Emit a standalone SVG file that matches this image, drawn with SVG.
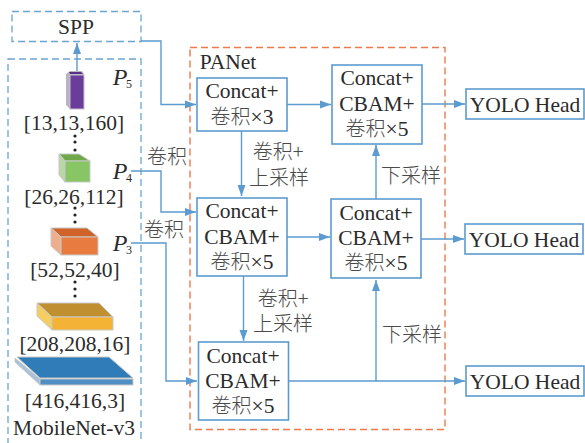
<svg xmlns="http://www.w3.org/2000/svg" width="585" height="443" viewBox="0 0 585 443">
  <style>
    text { font-family: "Liberation Serif", "Noto Sans CJK SC", serif; font-size: 21.500px; fill: #2b2b2b; text-anchor: middle; }
    .cjk { font-family: "Noto Sans CJK SC", "Liberation Serif", serif; font-size: 20px; font-weight: 300; fill: #4a4a4a; }
    .it { font-style: italic; font-size: 24px; }
    .sub { font-size: 12px; }
    .box { fill: #fff; stroke: #5b9bd0; stroke-width: 1.6; }
    .dash { fill: none; stroke: #6aa5d2; stroke-width: 1.3; stroke-dasharray: 7 4; }
    .panet { fill: none; stroke: #ee7a4c; stroke-width: 1.4; stroke-dasharray: 7 4; }
    .wire { fill: none; stroke: #5b9bd0; stroke-width: 1.4; marker-end: url(#arrow); }
    .plain { fill: none; stroke: #5b9bd0; stroke-width: 1.4; }
    .edge { stroke: #c8c8c8; stroke-width: 1; }
    .dot { fill: #222; }
  </style>
  <defs>
    <marker id="arrow" markerUnits="userSpaceOnUse" markerWidth="12" markerHeight="10" refX="11" refY="5" orient="auto">
      <path d="M0 1 L11 5 L0 9 Z" fill="#5b9bd0"/>
    </marker>
  </defs>

  <rect class="panet" x="190" y="47.500" width="255" height="382"/>
  <rect class="dash" x="12" y="11.500" width="129" height="30"/>
  <rect class="dash" x="8" y="59" width="133" height="390"/>

  <g id="connectors">
    <path class="wire" d="M77 71 V43"/>
    <path class="wire" d="M141 41 H161 V104.500 H196"/>
    <path class="wire" d="M131 171 H161 V212 H196"/>
    <path class="wire" d="M131 243 H166 V381 H197"/>
    <path class="wire" d="M287 104.500 H331"/>
    <path class="wire" d="M241.500 131 V196"/>
    <path class="wire" d="M287 237 H330"/>
    <path class="wire" d="M243.500 276 V341"/>
    <path class="wire" d="M376 199 V145"/>
    <path class="plain" d="M289 381 H376"/>
    <path class="wire" d="M376 381 V280"/>
    <path class="wire" d="M376 381 H465"/>
    <path class="wire" d="M422 104 H465"/>
    <path class="wire" d="M421 239 H464"/>
  </g>

  <g id="spp"><text x="76" y="34">SPP</text></g>

  <g id="backbone">
    <g id="p5-block">
      <path d="M66 74 L70 71 H82 L84 74 V109 H70 L66 105 Z" fill="#b9b4c4"/>
      <path d="M69 72 H81 L83 74 H70 Z" fill="#5a2f87"/>
      <rect x="70" y="75" width="14" height="34" fill="#6a3d9a" stroke="#c4c0cc" stroke-width="1"/>
    </g>
    <text x="74" y="130">[13,13,160]</text>
    <g id="p4-block">
      <path d="M59 154 H79 L90 161 H65 Z" fill="#6fa84a" class="edge"/>
      <path d="M59 154 L65 161 V182 L59 175 Z" fill="#b9d6a4" class="edge"/>
      <rect x="65" y="161" width="25" height="21" fill="#88c665" class="edge"/>
    </g>
    <text x="74" y="204">[26,26,112]</text>
    <g id="p3-block">
      <path d="M51 228 H87 L98 237 H61 Z" fill="#cf6329" class="edge"/>
      <path d="M51 228 L61 237 V255 L51 246 Z" fill="#eeae8b" class="edge"/>
      <rect x="61" y="237" width="37" height="18" fill="#e87c40" class="edge"/>
    </g>
    <text x="75" y="277">[52,52,40]</text>
    <g id="c2-block">
      <path d="M37 303 H99 L113 317 H52 Z" fill="#bf8f30" class="edge"/>
      <path d="M37 303 L52 317 V330 L37 316 Z" fill="#f6cd62" class="edge"/>
      <rect x="52" y="317" width="61" height="13" fill="#f5b335" class="edge"/>
    </g>
    <text x="75" y="351">[208,208,16]</text>
    <g id="input-block">
      <path d="M17 357 H109 L133 378 H40 Z" fill="#2f7cb8" class="edge"/>
      <path d="M15 358 L40 379 V385 L15 362 Z" fill="#a9c2da" class="edge"/>
      <rect x="40" y="379" width="93" height="6" fill="#4f8fc4" class="edge"/>
    </g>
    <text x="75" y="408">[416,416,3]</text>
    <text x="74" y="435">MobileNet-v3</text>

    <g id="ellipsis-upper">
      <circle class="dot" cx="75" cy="136" r="1.600"/><circle class="dot" cx="75" cy="142" r="1.600"/><circle class="dot" cx="75" cy="150" r="1.600"/>
    </g>
    <g id="ellipsis-mid">
      <circle class="dot" cx="75" cy="208" r="1.600"/><circle class="dot" cx="75" cy="215" r="1.600"/><circle class="dot" cx="75" cy="222" r="1.600"/>
    </g>
    <g id="ellipsis-lower">
      <circle class="dot" cx="75" cy="282" r="1.600"/><circle class="dot" cx="75" cy="289" r="1.600"/><circle class="dot" cx="75" cy="296" r="1.600"/>
    </g>

    <text class="it" x="120" y="85">P</text><text class="sub" x="129" y="88">5</text>
    <text class="it" x="120" y="179">P</text><text class="sub" x="129" y="182">4</text>
    <text class="it" x="120" y="251">P</text><text class="sub" x="129" y="254">3</text>
  </g>

  <text class="cjk" x="167" y="164">卷积</text>
  <text class="cjk" x="164" y="237">卷积</text>

  <text x="228" y="69">PANet</text>

  <g id="n1">
    <rect class="box" x="197" y="78" width="90" height="53"/>
    <text x="242" y="98">Concat+</text>
    <text x="242" y="124"><tspan class="cjk">卷积</tspan>×3</text>
  </g>
  <g id="n2">
    <rect class="box" x="332" y="65" width="90" height="79"/>
    <text x="377" y="85">Concat+</text>
    <text x="377" y="111">CBAM+</text>
    <text x="377" y="136"><tspan class="cjk">卷积</tspan>×5</text>
  </g>
  <g id="n3">
    <rect class="box" x="197" y="198" width="90" height="78"/>
    <text x="242" y="218">Concat+</text>
    <text x="242" y="244">CBAM+</text>
    <text x="242" y="269"><tspan class="cjk">卷积</tspan>×5</text>
  </g>
  <g id="n4">
    <rect class="box" x="331" y="199" width="90" height="79"/>
    <text x="376" y="220">Concat+</text>
    <text x="376" y="245">CBAM+</text>
    <text x="376" y="270"><tspan class="cjk">卷积</tspan>×5</text>
  </g>
  <g id="n5">
    <rect class="box" x="198.500" y="342" width="90" height="78"/>
    <text x="243" y="363">Concat+</text>
    <text x="243" y="388">CBAM+</text>
    <text x="243" y="413"><tspan class="cjk">卷积</tspan>×5</text>
  </g>

  <text class="cjk" x="278" y="159">卷积+</text>
  <text class="cjk" x="279" y="185">上采样</text>
  <text class="cjk" x="283" y="306">卷积+</text>
  <text class="cjk" x="283" y="331">上采样</text>
  <text class="cjk" x="411" y="183">下采样</text>
  <text class="cjk" x="412" y="342">下采样</text>

  <g id="head1">
    <rect class="box" x="466" y="89" width="118" height="30"/>
    <text x="525" y="112">YOLO Head</text>
  </g>
  <g id="head2">
    <rect class="box" x="465" y="224" width="118" height="30"/>
    <text x="524" y="247">YOLO Head</text>
  </g>
  <g id="head3">
    <rect class="box" x="466" y="366" width="118" height="30"/>
    <text x="525" y="389">YOLO Head</text>
  </g>
</svg>
